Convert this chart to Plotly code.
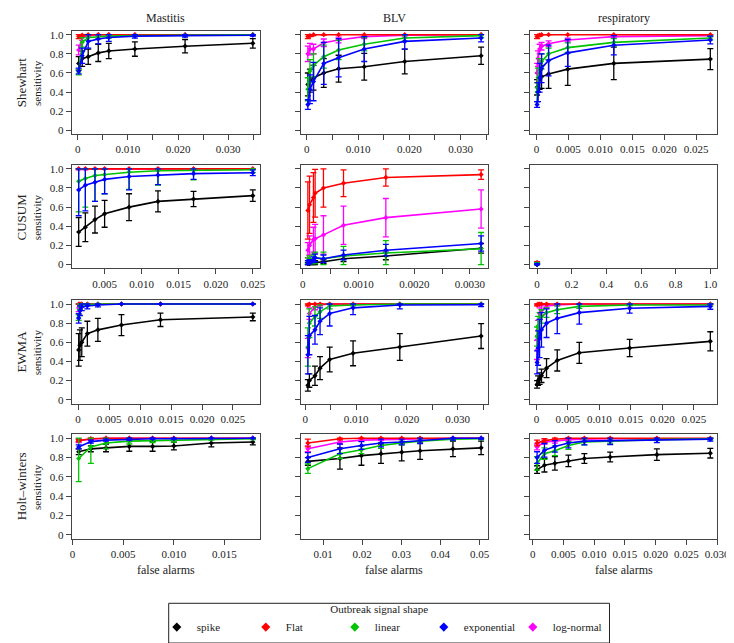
import plotly.graph_objects as go

W, H = 734, 643
FONT = "Liberation Serif"

SHAPES = ["spike", "Flat", "linear", "exponential", "log-normal"]
COLORS = ["#000000", "#FF0000", "#00C400", "#0000FF", "#FF00FF"]
DRAW_ORDER = [0, 4, 1, 2, 3]

methods = ["Shewhart", "CUSUM", "EWMA", "Holt\u2013winters"]
diseases = ["Mastitis", "BLV", "respiratory"]

# ---------------- Shewhart ----------------
shew_mast_x = [0.0002, 0.0009, 0.0021, 0.0041, 0.0062, 0.0114, 0.0214, 0.0349]
shew_mast_y = [
    [0.70, 0.75, 0.77, 0.81, 0.83, 0.85, 0.88, 0.91],
    [0.98, 0.995, 1, 1, 1, 1, 1, 1],
    [0.61, 0.92, 0.97, 0.98, 0.985, 0.99, 0.995, 1.0],
    [0.62, 0.78, 0.93, 0.955, 0.97, 0.985, 0.99, 0.995],
    [0.84, 0.97, 0.99, 1, 1, 1, 1, 1],
]
shew_mast_err = [
    [0.07, 0.08, 0.08, 0.09, 0.08, 0.075, 0.07, 0.05],
    [0.02, 0.01, 0.005, 0, 0, 0, 0, 0],
    [0.03, 0.05, 0.03, 0.02, 0.02, 0.01, 0.01, 0.005],
    [0.03, 0.08, 0.07, 0.05, 0.04, 0.02, 0.015, 0.01],
    [0.05, 0.03, 0.01, 0, 0, 0, 0, 0],
]

shew_blv_x = [0.0002, 0.0006, 0.0013, 0.0033, 0.0062, 0.0112, 0.0191, 0.0340]
shew_blv_y = [
    [0.48, 0.52, 0.55, 0.60, 0.645, 0.665, 0.72, 0.78],
    [0.98, 0.99, 1, 1, 1, 1, 1, 1],
    [0.43, 0.62, 0.68, 0.77, 0.84, 0.90, 0.965, 0.99],
    [0.27, 0.43, 0.51, 0.70, 0.76, 0.85, 0.93, 0.965],
    [0.80, 0.85, 0.85, 0.915, 0.945, 0.98, 0.995, 1.0],
]
shew_blv_err = [
    [0.12, 0.12, 0.13, 0.15, 0.14, 0.14, 0.13, 0.09],
    [0.02, 0.01, 0.01, 0.005, 0, 0, 0, 0],
    [0.12, 0.12, 0.12, 0.12, 0.10, 0.07, 0.03, 0.02],
    [0.05, 0.15, 0.20, 0.22, 0.20, 0.13, 0.08, 0.04],
    [0.08, 0.06, 0.05, 0.04, 0.03, 0.02, 0.01, 0],
]

shew_resp_x = [0.0001, 0.00025, 0.0005, 0.0008, 0.0019, 0.0049, 0.0121, 0.0272]
shew_resp_y = [
    [0.45, 0.50, 0.53, 0.56, 0.59, 0.64, 0.70, 0.745],
    [0.98, 0.99, 0.995, 1, 1, 1, 1, 1],
    [0.40, 0.55, 0.65, 0.72, 0.80, 0.865, 0.92, 0.965],
    [0.27, 0.40, 0.55, 0.65, 0.73, 0.81, 0.89, 0.945],
    [0.60, 0.75, 0.85, 0.88, 0.905, 0.945, 0.98, 0.99],
]
shew_resp_err = [
    [0.08, 0.10, 0.10, 0.12, 0.15, 0.17, 0.17, 0.11],
    [0.02, 0.01, 0.01, 0, 0, 0, 0, 0],
    [0.10, 0.10, 0.10, 0.08, 0.06, 0.05, 0.04, 0.02],
    [0.03, 0.10, 0.15, 0.15, 0.16, 0.14, 0.10, 0.04],
    [0.10, 0.08, 0.05, 0.04, 0.03, 0.02, 0.01, 0.01],
]

# ---------------- CUSUM ----------------
cusum_mast_x = [0.0015, 0.0024, 0.0037, 0.0050, 0.0083, 0.0122, 0.0170, 0.0250]
cusum_mast_y = [
    [0.34, 0.39, 0.47, 0.53, 0.60, 0.66, 0.685, 0.72],
    [1, 1, 1, 1, 1, 1, 1, 1],
    [0.87, 0.90, 0.93, 0.94, 0.965, 0.98, 0.985, 0.99],
    [0.78, 0.83, 0.86, 0.89, 0.92, 0.935, 0.95, 0.96],
    [1, 1, 1, 1, 1, 1, 1, 1],
]
cusum_mast_err = [
    [0.15, 0.15, 0.14, 0.14, 0.14, 0.11, 0.08, 0.06],
    [0, 0, 0, 0, 0, 0, 0, 0],
    [0.32, 0.30, 0.27, 0.20, 0.18, 0.15, 0.10, 0.03],
    [0.27, 0.27, 0.20, 0.15, 0.14, 0.10, 0.06, 0.03],
    [0.01, 0.01, 0, 0, 0, 0, 0, 0],
]

cusum_blv_x = [0.00009, 0.00012, 0.00019, 0.00022, 0.00037, 0.00073, 0.00149, 0.0032]
cusum_blv_y = [
    [0.01, 0.01, 0.02, 0.02, 0.03, 0.06, 0.09, 0.17],
    [0.565, 0.625, 0.70, 0.745, 0.80, 0.85, 0.91, 0.94],
    [0.04, 0.05, 0.06, 0.07, 0.06, 0.09, 0.12, 0.165],
    [0.02, 0.03, 0.05, 0.07, 0.06, 0.10, 0.15, 0.22],
    [0.15, 0.20, 0.26, 0.27, 0.31, 0.41, 0.49, 0.58],
]
cusum_blv_err = [
    [0.01, 0.01, 0.02, 0.02, 0.02, 0.03, 0.04, 0.05],
    [0.30, 0.30, 0.26, 0.25, 0.20, 0.14, 0.09, 0.05],
    [0.03, 0.04, 0.05, 0.06, 0.07, 0.10, 0.13, 0.17],
    [0.02, 0.02, 0.03, 0.04, 0.04, 0.05, 0.06, 0.08],
    [0.08, 0.10, 0.13, 0.15, 0.20, 0.20, 0.20, 0.20],
]

cusum_resp_x = [0.0]
cusum_resp_y = [[0.0], [0.02], [0.01], [0.0], [0.02]]
cusum_resp_err = [[0.01], [0.01], [0.01], [0.01], [0.01]]

# ---------------- EWMA ----------------
ewma_mast_x = [0.0001, 0.0003, 0.0006, 0.0015, 0.0032, 0.0070, 0.0133, 0.0282]
ewma_mast_y = [
    [0.52, 0.57, 0.60, 0.69, 0.73, 0.78, 0.835, 0.865],
    [1, 1, 1, 1, 1, 1, 1, 1],
    [0.86, 0.97, 0.99, 0.995, 1, 1, 1, 1],
    [0.85, 0.93, 0.97, 0.98, 0.99, 1, 1, 1],
    [0.96, 0.99, 1, 1, 1, 1, 1, 1],
]
ewma_mast_err = [
    [0.17, 0.16, 0.15, 0.13, 0.12, 0.11, 0.07, 0.04],
    [0, 0, 0, 0, 0, 0, 0, 0],
    [0.03, 0.03, 0.02, 0.01, 0, 0, 0, 0],
    [0.05, 0.05, 0.04, 0.03, 0.02, 0, 0, 0],
    [0.04, 0.02, 0, 0, 0, 0, 0, 0],
]

ewma_blv_x = [0.0005, 0.0008, 0.0019, 0.0029, 0.0048, 0.0094, 0.0186, 0.0346]
ewma_blv_y = [
    [0.15, 0.20, 0.25, 0.33, 0.42, 0.485, 0.55, 0.665],
    [0.99, 1, 1, 1, 1, 1, 1, 1],
    [0.55, 0.80, 0.87, 0.92, 0.98, 0.99, 1.0, 1.0],
    [0.47, 0.67, 0.73, 0.82, 0.90, 0.96, 0.99, 0.993],
    [0.54, 0.90, 0.97, 0.99, 1, 1, 1, 1],
]
ewma_blv_err = [
    [0.06, 0.07, 0.10, 0.12, 0.13, 0.13, 0.14, 0.13],
    [0.01, 0, 0, 0, 0, 0, 0, 0],
    [0.20, 0.15, 0.10, 0.07, 0.03, 0.01, 0, 0],
    [0.20, 0.20, 0.15, 0.14, 0.13, 0.07, 0.04, 0.02],
    [0.10, 0.06, 0.03, 0.01, 0, 0, 0, 0],
]

ewma_resp_x = [0.0001, 0.00026, 0.0005, 0.0008, 0.0016, 0.0033, 0.0068, 0.0148, 0.0276]
ewma_resp_y = [
    [0.16, 0.20, 0.22, 0.25, 0.33, 0.41, 0.49, 0.54, 0.61],
    [0.99, 1, 1, 1, 1, 1, 1, 1, 1],
    [0.66, 0.77, 0.83, 0.87, 0.91, 0.94, 0.975, 0.99, 0.99],
    [0.39, 0.54, 0.64, 0.73, 0.80, 0.85, 0.91, 0.955, 0.975],
    [0.52, 0.73, 0.90, 0.93, 0.98, 0.99, 1, 1, 1],
]
ewma_resp_err = [
    [0.04, 0.05, 0.06, 0.07, 0.10, 0.11, 0.11, 0.09, 0.10],
    [0.01, 0, 0, 0, 0, 0, 0, 0, 0],
    [0.10, 0.10, 0.08, 0.07, 0.05, 0.04, 0.02, 0.01, 0.01],
    [0.12, 0.18, 0.20, 0.18, 0.15, 0.16, 0.12, 0.05, 0.03],
    [0.10, 0.10, 0.06, 0.05, 0.02, 0.01, 0, 0, 0],
]

# ---------------- Holt-Winters ----------------
hw_mast_x = [0.0006, 0.0018, 0.0033, 0.0056, 0.0079, 0.0100, 0.0137, 0.0178]
hw_mast_y = [
    [0.86, 0.89, 0.90, 0.915, 0.915, 0.92, 0.95, 0.96],
    [0.975, 0.995, 1, 1, 1, 1, 1, 1],
    [0.79, 0.91, 0.95, 0.97, 0.975, 0.98, 0.99, 0.995],
    [0.91, 0.965, 0.98, 0.99, 0.995, 0.995, 1, 1],
    [0.975, 0.99, 1, 1, 1, 1, 1, 1],
]
hw_mast_err = [
    [0.03, 0.03, 0.04, 0.05, 0.05, 0.04, 0.04, 0.03],
    [0.01, 0.005, 0, 0, 0, 0, 0, 0],
    [0.24, 0.17, 0.06, 0.03, 0.02, 0.02, 0.01, 0.01],
    [0.02, 0.015, 0.01, 0.01, 0.005, 0.005, 0, 0],
    [0.02, 0.01, 0, 0, 0, 0, 0, 0],
]

hw_blv_x = [0.0061, 0.0143, 0.0198, 0.0248, 0.0301, 0.0348, 0.0432, 0.0504]
hw_blv_y = [
    [0.76, 0.79, 0.82, 0.84, 0.855, 0.87, 0.89, 0.90],
    [0.95, 0.995, 1, 1, 1, 1, 1, 1],
    [0.685, 0.84, 0.88, 0.925, 0.95, 0.97, 0.99, 0.995],
    [0.80, 0.89, 0.925, 0.95, 0.96, 0.975, 1.0, 1.0],
    [0.89, 0.96, 0.98, 0.985, 0.99, 0.995, 1, 1],
]
hw_blv_err = [
    [0.04, 0.11, 0.10, 0.10, 0.09, 0.09, 0.08, 0.07],
    [0.04, 0.01, 0, 0, 0, 0, 0, 0],
    [0.05, 0.05, 0.04, 0.03, 0.02, 0.02, 0.01, 0.01],
    [0.05, 0.05, 0.04, 0.04, 0.03, 0.03, 0.02, 0.01],
    [0.03, 0.02, 0.01, 0.01, 0, 0, 0, 0],
]

hw_resp_x = [0.0007, 0.0019, 0.0036, 0.0058, 0.0084, 0.0126, 0.0202, 0.0289]
hw_resp_y = [
    [0.675, 0.72, 0.74, 0.765, 0.79, 0.805, 0.83, 0.845],
    [0.95, 0.975, 0.99, 1, 1, 1, 1, 1],
    [0.74, 0.84, 0.87, 0.925, 0.96, 0.97, 0.985, 0.993],
    [0.80, 0.875, 0.915, 0.95, 0.97, 0.975, 0.985, 0.99],
    [0.91, 0.96, 0.97, 0.985, 0.99, 0.995, 0.995, 0.995],
]
hw_resp_err = [
    [0.04, 0.07, 0.07, 0.06, 0.05, 0.05, 0.06, 0.05],
    [0.03, 0.02, 0.01, 0, 0, 0, 0, 0],
    [0.07, 0.06, 0.05, 0.04, 0.03, 0.02, 0.01, 0.01],
    [0.06, 0.07, 0.06, 0.05, 0.04, 0.04, 0.03, 0.02],
    [0.03, 0.02, 0.02, 0.01, 0, 0, 0, 0],
]

# ---------------- tick sets ----------------
ticks_035 = [0, 0.005, 0.010, 0.015, 0.020, 0.025, 0.030, 0.035]
labels_035 = ["0", "", "0.010", "", "0.020", "", "0.030", ""]
ticks_025 = [0, 0.005, 0.010, 0.015, 0.020, 0.025]
labels_025 = ["0", "0.005", "0.010", "0.015", "0.020", "0.025"]
ticks_cm = [0.005, 0.010, 0.015, 0.020, 0.025]
labels_cm = ["0.005", "0.010", "0.015", "0.020", "0.025"]
ticks_cb = [0, 0.0005, 0.0010, 0.0015, 0.0020, 0.0025, 0.0030]
labels_cb = ["0", "", "0.0010", "", "0.0020", "", "0.0030"]
ticks_unit = [0, 0.2, 0.4, 0.6, 0.8, 1.0]
labels_unit = ["0", "0.2", "0.4", "0.6", "0.8", "1.0"]
ticks_015 = [0, 0.005, 0.010, 0.015]
labels_015 = ["0", "0.005", "0.010", "0.015"]
ticks_05 = [0.01, 0.02, 0.03, 0.04, 0.05]
labels_05 = ["0.01", "0.02", "0.03", "0.04", "0.05"]
ticks_030 = [0, 0.005, 0.010, 0.015, 0.020, 0.025, 0.030]
labels_030 = ["0", "0.005", "0.010", "0.015", "0.020", "0.025", "0.030"]

panels = [
    (shew_mast_x, shew_mast_y, shew_mast_err, ticks_035, labels_035, None),
    (shew_blv_x, shew_blv_y, shew_blv_err, ticks_035, labels_035, None),
    (shew_resp_x, shew_resp_y, shew_resp_err, ticks_025, labels_025, None),
    (cusum_mast_x, cusum_mast_y, cusum_mast_err, ticks_cm, labels_cm, None),
    (cusum_blv_x, cusum_blv_y, cusum_blv_err, ticks_cb, labels_cb, None),
    (cusum_resp_x, cusum_resp_y, cusum_resp_err, ticks_unit, labels_unit, [0.0, 1.0]),
    (ewma_mast_x, ewma_mast_y, ewma_mast_err, ticks_025, labels_025, None),
    (ewma_blv_x, ewma_blv_y, ewma_blv_err, ticks_035, labels_035, None),
    (ewma_resp_x, ewma_resp_y, ewma_resp_err, ticks_025, labels_025, None),
    (hw_mast_x, hw_mast_y, hw_mast_err, ticks_015, labels_015, None),
    (hw_blv_x, hw_blv_y, hw_blv_err, ticks_05, labels_05, None),
    (hw_resp_x, hw_resp_y, hw_resp_err, ticks_030, labels_030, None),
]

col_px = [(63, 255), (297, 488), (531, 722)]
row_px = [(21, 125), (156, 260), (292, 396), (427, 532)]

fig = go.Figure()
layout = {}
BOX = "#444444"

for k, (xs, ys, es, tv, tt, lim) in enumerate(panels):
    r, c = divmod(k, 3)
    n = k + 1
    xa = "x" if n == 1 else f"x{n}"
    ya = "y" if n == 1 else f"y{n}"
    for si in DRAW_ORDER:
        yv = ys[si]
        ev = es[si]
        up = [max(0.0, min(e, 1.0 - y)) for y, e in zip(yv, ev)]
        dn = [max(0.0, min(e, y)) for y, e in zip(yv, ev)]
        fig.add_trace(go.Scatter(
            x=xs, y=yv, mode="lines+markers", xaxis=xa, yaxis=ya,
            line=dict(color=COLORS[si], width=1.6),
            marker=dict(symbol="diamond", size=4, color=COLORS[si]),
            error_y=dict(type="data", symmetric=False, array=up, arrayminus=dn,
                         color=COLORS[si], thickness=1.3, width=3),
            showlegend=False, hoverinfo="skip",
        ))
    if lim is None:
        lo, hi = min(xs), max(xs)
    else:
        lo, hi = lim
    pad = 0.04 * (hi - lo)
    x0, x1 = col_px[c]
    y0, y1 = row_px[r]
    axis_common = dict(showline=True, mirror=True, linecolor=BOX, linewidth=1,
                       ticks="outside", ticklen=5, tickwidth=1, tickcolor=BOX,
                       showgrid=False, zeroline=False,
                       tickfont=dict(family=FONT, size=11, color="#222"))
    layout["xaxis" if n == 1 else f"xaxis{n}"] = dict(
        domain=[x0 / W, x1 / W], anchor=ya, range=[lo - pad, hi + pad],
        tickmode="array", tickvals=tv, ticktext=tt, **axis_common)
    layout["yaxis" if n == 1 else f"yaxis{n}"] = dict(
        domain=[1 - y1 / H, 1 - y0 / H], anchor=xa, range=[-0.04, 1.04],
        tickmode="array", tickvals=ticks_unit,
        ticktext=labels_unit if c == 0 else [""] * 6, **axis_common)

# legend-only traces
for si in range(5):
    fig.add_trace(go.Scatter(
        x=[None], y=[None], mode="markers", name=SHAPES[si],
        marker=dict(symbol="diamond", size=7, color=COLORS[si]),
        showlegend=True, xaxis="x", yaxis="y",
    ))

annotations = []
for c, name in enumerate(diseases):
    cx = (col_px[c][0] + col_px[c][1]) / 2
    annotations.append(dict(text=name, x=cx / W, y=1 - 8 / H, xref="paper", yref="paper",
                            xanchor="center", yanchor="middle",
                            showarrow=False, font=dict(family=FONT, size=12, color="#222")))
    annotations.append(dict(text="false alarms", x=cx / W, y=1 - 564 / H, xref="paper", yref="paper",
                            xanchor="center", yanchor="middle",
                            showarrow=False, font=dict(family=FONT, size=12, color="#222")))
for r, m in enumerate(methods):
    cy = (row_px[r][0] + row_px[r][1]) / 2
    annotations.append(dict(text=m, x=12 / W, y=1 - cy / H, xref="paper", yref="paper",
                            xanchor="center", yanchor="middle",
                            textangle=-90, showarrow=False,
                            font=dict(family=FONT, size=13, color="#222")))
    annotations.append(dict(text="sensitivity", x=27 / W, y=1 - cy / H, xref="paper", yref="paper",
                            xanchor="center", yanchor="middle",
                            textangle=-90, showarrow=False,
                            font=dict(family=FONT, size=11, color="#222")))

legend_box = dict(type="rect", xref="paper", yref="paper",
                  x0=162 / W, x1=612 / W, y0=1 - 637 / H, y1=1 - 597 / H,
                  line=dict(color="#222", width=1), fillcolor="rgba(0,0,0,0)")

fig.update_layout(
    width=W, height=H, margin=dict(l=0, r=0, t=0, b=0),
    paper_bgcolor="white", plot_bgcolor="white",
    font=dict(family=FONT, size=11, color="#222"),
    annotations=annotations,
    shapes=[legend_box],
    legend=dict(orientation="h", x=377 / W, xanchor="center", y=1 - 592 / H, yanchor="top",
                borderwidth=0, bgcolor="rgba(0,0,0,0)",
                title=dict(text="Outbreak signal shape", side="top center",
                           font=dict(family=FONT, size=11)),
                font=dict(family=FONT, size=11),
                entrywidth=44, entrywidthmode="pixels", itemsizing="trace",
                tracegroupgap=0, itemwidth=30),
    **layout,
)

fig.write_html("out.html")
